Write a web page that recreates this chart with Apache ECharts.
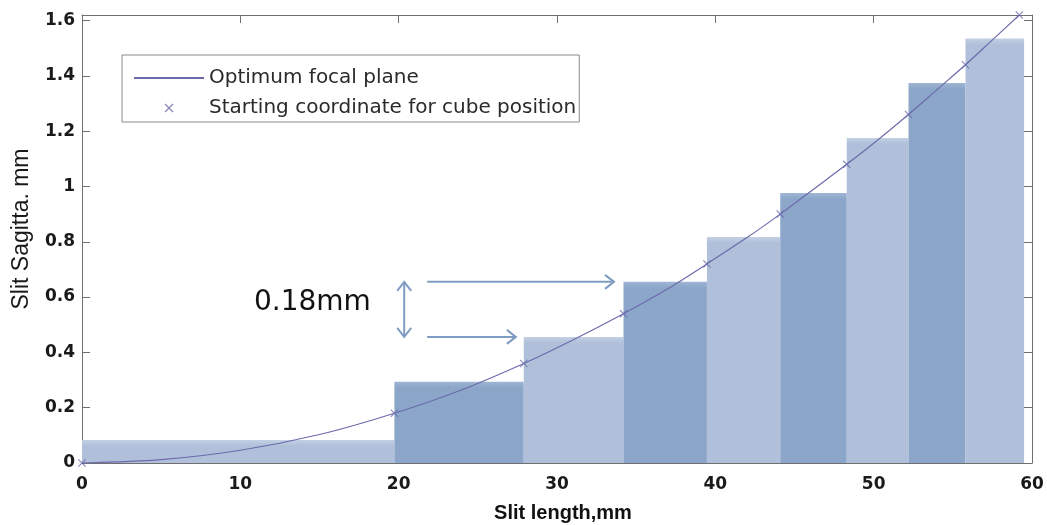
<!DOCTYPE html>
<html><head><meta charset="utf-8">
<script src="https://cdn.jsdelivr.net/npm/echarts@6/dist/echarts.min.js"></script>
<style>html,body{margin:0;padding:0;background:#fff}#c{width:1047px;height:525px}</style>
</head><body><div id="c"></div>
<script>
// ---- data ----
const barStart  = [0, 19.73, 27.9, 34.2, 39.47, 44.1, 48.3, 52.2, 55.8];
const barEnd    = [19.73, 27.9, 34.2, 39.47, 44.1, 48.3, 52.2, 55.8, 59.5];
const barHeight = [0.083, 0.294, 0.456, 0.655, 0.817, 0.976, 1.175, 1.374, 1.535];
const barTone   = ['light', 'dark', 'light', 'dark', 'light', 'dark', 'light', 'dark', 'light'];

const curveX = [0, 5, 10, 15, 19.73, 24, 27.9, 31, 34.2, 37, 39.47, 42, 44.1, 46.2, 48.3, 50.3, 52.2, 54, 55.8, 57.5, 59.2];
const curveY = [0, 0.012, 0.046, 0.103, 0.18, 0.265, 0.36, 0.445, 0.54, 0.63, 0.72, 0.815, 0.9, 0.99, 1.08, 1.17, 1.26, 1.35, 1.44, 1.53, 1.62];

const markerX = [0, 19.73, 27.9, 34.2, 39.47, 44.1, 48.3, 52.2, 55.8, 59.2];
const markerY = [0, 0.18, 0.36, 0.54, 0.72, 0.90, 1.08, 1.26, 1.44, 1.62];

const xTickLabels = ['0', '10', '20', '30', '40', '50', '60'];
const yTickLabels = ['0', '0.2', '0.4', '0.6', '0.8', '1', '1.2', '1.4', '1.6'];

const seriesNames = ['Optimum focal plane', 'Starting coordinate for cube position'];

// annotation: "0.18mm" with arrows (data coordinates)
const annotText = '0.18mm';
const annotTextAt = [14.55, 0.579];
const arrowFrom = [[21.8, 0.655], [21.8, 0.456]];
const arrowTo   = [[33.6, 0.655], [27.4, 0.456]];
const dblArrowX = 20.35;
const dblArrowY = [0.456, 0.655];

// ---- chart ----
const toneColor = { light: '#b0c0da', dark: '#8ba6c9' };
const barData = barStart.map((s, i) => [s, barEnd[i], barHeight[i], i]);
const curveData = curveX.map((x, i) => [x, curveY[i]]);
const markerData = markerX.map((x, i) => [x, markerY[i]]);
const xSymbol = 'path://M0,1L1,0L5,4L9,0L10,1L6,5L10,9L9,10L5,6L1,10L0,9L4,5Z';
const lineColor = '#6b6bab';
const arrowColor = '#7f9cc2';

function yFmt(v) {
  const s = String(Math.round(v * 10) / 10);
  return yTickLabels.indexOf(s) >= 0 && Math.abs(v * 5 - Math.round(v * 5)) < 1e-6 ? s : '';
}
function xFmt(v) {
  const s = String(Math.round(v));
  return xTickLabels.indexOf(s) >= 0 && Math.abs(v - Math.round(v)) < 1e-6 ? s : '';
}

const axisGray = '#707070';
const tickFont = { fontFamily: 'DejaVu Sans', fontWeight: 'bold', fontSize: 17, color: '#1a1a1a' };

const chart = echarts.init(document.getElementById('c'), null, { renderer: 'canvas' });
chart.setOption({
  animation: false,
  backgroundColor: '#ffffff',
  grid: { left: 82, right: 15, top: 15, bottom: 62, containLabel: false, outerBoundsMode: 'none' },
  legend: {
    show: true,
    orient: 'vertical',
    left: 122, top: 55,
    padding: [13, 3, 4, 11],
    itemGap: 10,
    itemWidth: 70,
    itemHeight: 9,
    borderColor: '#8a8a8a',
    borderWidth: 1,
    backgroundColor: '#ffffff',
    data: [
      { name: seriesNames[0], itemStyle: { opacity: 0 } },
      { name: seriesNames[1] }
    ],
    textStyle: { fontFamily: 'DejaVu Sans', fontSize: 20, color: '#2a2a2a' },
    selectedMode: false
  },
  xAxis: [{
    type: 'value', min: 0, max: 60, interval: 10, position: 'bottom',
    name: 'Slit length,mm', nameLocation: 'middle', nameGap: 40,
    nameTextStyle: { fontFamily: 'Liberation Sans', fontWeight: 'bold', fontSize: 20, color: '#111', padding: [0, 0, 0, 12] },
    axisLine: { show: true, onZero: false, lineStyle: { color: axisGray, width: 1 } },
    axisTick: { show: true, inside: true, length: 8, lineStyle: { color: axisGray } },
    axisLabel: Object.assign({ margin: 13, formatter: xFmt }, tickFont),
    splitLine: { show: false }
  }, {
    type: 'value', min: 0, max: 60, interval: 10, position: 'top',
    axisLine: { show: true, onZero: false, lineStyle: { color: axisGray, width: 1 } },
    axisTick: { show: true, inside: true, length: 8, lineStyle: { color: axisGray } },
    axisLabel: { show: false }, splitLine: { show: false }
  }],
  yAxis: [{
    type: 'value', min: 0, max: 1.62, interval: 0.2, position: 'left',
    name: 'Slit Sagitta. mm', nameLocation: 'middle', nameGap: 49, nameRotate: 90,
    nameTextStyle: { fontFamily: 'Liberation Sans', fontSize: 23, color: '#1a1a1a', padding: [0, 0, 0, 20] },
    axisLine: { show: true, onZero: false, lineStyle: { color: axisGray, width: 1 } },
    axisTick: { show: true, inside: true, length: 8, lineStyle: { color: axisGray } },
    axisLabel: Object.assign({ margin: 7, formatter: yFmt }, tickFont),
    splitLine: { show: false }
  }, {
    type: 'value', min: 0, max: 1.62, interval: 0.2, position: 'right',
    axisLine: { show: true, onZero: false, lineStyle: { color: axisGray, width: 1 } },
    axisTick: { show: true, inside: true, length: 8, lineStyle: { color: axisGray } },
    axisLabel: { show: false }, splitLine: { show: false }
  }],
  series: [
    {
      name: 'cubes', type: 'custom', xAxisIndex: 0, yAxisIndex: 0, z: 1, silent: true,
      encode: { x: [0, 1], y: 2 },
      data: barData,
      renderItem: function (params, api) {
        const p0 = api.coord([api.value(0), api.value(2)]);
        const p1 = api.coord([api.value(1), 0]);
        const tone = barTone[api.value(3)];
        const c = toneColor[tone];
        return {
          type: 'rect',
          shape: { x: p0[0], y: p0[1], width: p1[0] - p0[0], height: p1[1] - p0[1] },
          style: {
            fill: new echarts.graphic.LinearGradient(0, 0, 0, 1, [
              { offset: 0, color: tone === 'light' ? '#c3d0e4' : '#9fb5d3' },
              { offset: Math.min(0.5, 6 / Math.max(1, p1[1] - p0[1])), color: c },
              { offset: 1, color: c }
            ])
          }
        };
      }
    },
    {
      name: seriesNames[0], type: 'line', xAxisIndex: 0, yAxisIndex: 0, z: 3,
      data: curveData, smooth: 0.3, symbol: 'none', showSymbol: false,
      color: lineColor,
      lineStyle: { color: lineColor, width: 1.2 }
    },
    {
      name: seriesNames[1], type: 'scatter', xAxisIndex: 0, yAxisIndex: 0, z: 4,
      data: markerData, symbol: xSymbol, symbolSize: 8, symbolKeepAspect: true,
      color: lineColor,
      itemStyle: { color: lineColor }
    },
    {
      name: 'annotation', type: 'custom', xAxisIndex: 0, yAxisIndex: 0, z: 5, silent: true,
      data: [[annotTextAt[0], annotTextAt[1]]],
      renderItem: function (params, api) {
        const children = [];
        const head = 9, half = 7;
        for (let i = 0; i < arrowFrom.length; i++) {
          const a = api.coord(arrowFrom[i]);
          const b = api.coord(arrowTo[i]);
          children.push({ type: 'line', shape: { x1: a[0], y1: a[1], x2: b[0], y2: b[1] },
            style: { stroke: arrowColor, lineWidth: 2 } });
          children.push({ type: 'polyline', shape: { points: [[b[0] - head, b[1] - half], [b[0], b[1]], [b[0] - head, b[1] + half]] },
            style: { stroke: arrowColor, lineWidth: 2, fill: null } });
        }
        const t = api.coord([dblArrowX, dblArrowY[1]]);
        const bt = api.coord([dblArrowX, dblArrowY[0]]);
        children.push({ type: 'line', shape: { x1: t[0], y1: t[1], x2: bt[0], y2: bt[1] },
          style: { stroke: arrowColor, lineWidth: 2 } });
        children.push({ type: 'polyline', shape: { points: [[t[0] - half, t[1] + head], [t[0], t[1]], [t[0] + half, t[1] + head]] },
          style: { stroke: arrowColor, lineWidth: 2, fill: null } });
        children.push({ type: 'polyline', shape: { points: [[bt[0] - half, bt[1] - head], [bt[0], bt[1]], [bt[0] + half, bt[1] - head]] },
          style: { stroke: arrowColor, lineWidth: 2, fill: null } });
        const tp = api.coord([api.value(0), api.value(1)]);
        children.push({ type: 'text', x: tp[0], y: tp[1],
          style: { text: annotText, fontFamily: 'DejaVu Sans', fontSize: 28, fill: '#111111', align: 'center', verticalAlign: 'middle' } });
        return { type: 'group', children: children };
      }
    }
  ]
});
</script>
</body></html>
